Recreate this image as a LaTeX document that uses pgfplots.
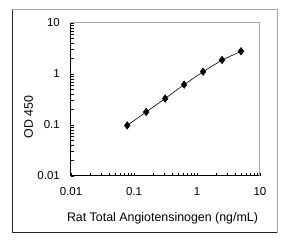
\documentclass[border=0pt]{standalone}
\usepackage{fontspec}
\setmainfont{Liberation Sans}
\usepackage{pgfplots}
\pgfplotsset{compat=1.18}
\newcommand\tl{\fontsize{11.5pt}{13pt}\selectfont}
\newcommand\lb{\fontsize{12.4pt}{14pt}\selectfont}
\begin{document}
\begin{tikzpicture}[x=1pt,y=1pt]
\useasboundingbox (0,0) rectangle (306,240);
\fill[white] (0,0) rectangle (306,240);
\begin{axis}[
  at={(71pt,64pt)}, anchor=south west,
  scale only axis, width=189pt, height=153pt,
  xmode=log, ymode=log,
  xmin=0.01, xmax=10, ymin=0.01, ymax=10,
  axis x line=bottom, axis y line=left,
  axis line style={-, black, line width=1pt},
  tick align=inside,
  major tick length=3pt, minor tick length=3pt,
  tick style={black, line width=0.5pt},
  xtick={0.01,0.1,1,10}, xticklabels={{\tl 0.01},{\tl 0.1},{\tl 1},{\tl 10}},
  ytick={0.01,0.1,1,10}, yticklabels={{\tl 0.01},{\tl 0.1},{\tl 1},{\tl 10}},
  xticklabel style={anchor=north, inner sep=0pt, yshift=-11.5pt},
  yticklabel style={anchor=east, inner sep=0pt, xshift=-11pt},
  xlabel={\lb Rat Total Angiotensinogen (ng/mL)},
  every axis x label/.style={at={(rel axis cs:0.484,-0.275)}, anchor=center},
  clip=false,
]
\addplot[black, line width=0.6pt, mark=diamond*, mark size=3.7pt, mark options={fill=black, solid}]
  coordinates {(0.078,0.098) (0.156,0.18) (0.3125,0.33) (0.625,0.62) (1.25,1.11) (2.5,1.88) (5,2.79)};
\draw[gray!70, line width=1pt] (rel axis cs:0,1) -- (rel axis cs:1,1) -- (rel axis cs:1,0);
\end{axis}
\node[rotate=90, anchor=center, inner sep=0pt] at (28.7,123) {\lb OD 450};
\draw[gray!70, line width=1pt] (12,230) -- (277,230) -- (277,7);
\draw[black!85, line width=1pt] (12,230) -- (12,7) -- (277,7);
\end{tikzpicture}
\end{document}
